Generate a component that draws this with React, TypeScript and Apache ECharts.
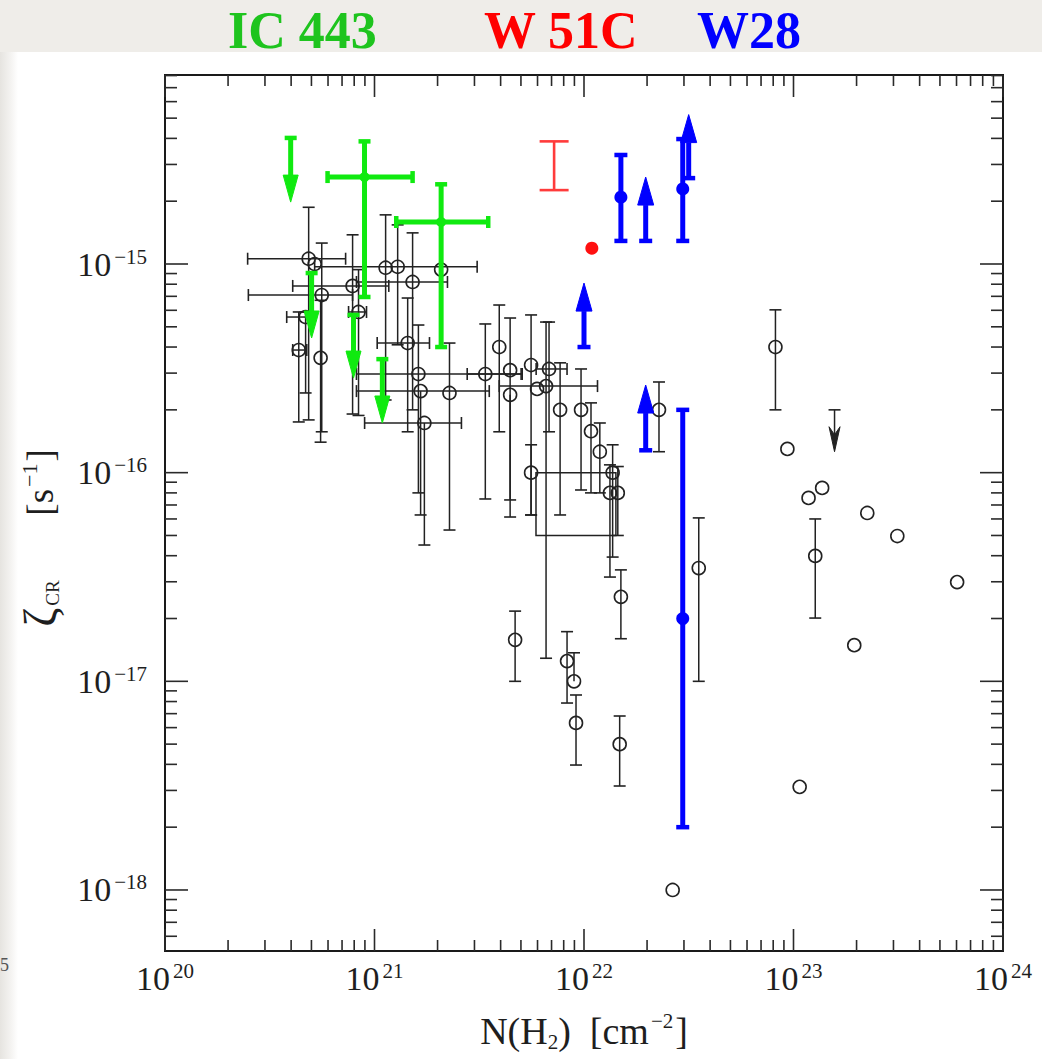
import React, { useEffect, useRef } from "react";
import * as echarts from "echarts";

const W = 1042;
const H = 1059;

// axis bounds
const X_MIN = 1e20;
const X_MAX = 1e24;
const Y_MIN = 5.1e-19;
const Y_MAX = 8.05e-15;
const xDecades = [20, 21, 22, 23];
const yDecades = [-19, -18, -17, -16, -15];
const mantissas = [1, 2, 3, 4, 5, 6, 7, 8, 9];

// titles
const titleTexts = ["IC 443", "W 51C", "W28"];

// [N(H2), zeta, zetaLow, zetaHigh, NLow, NHigh]  (0 = no bar)
const blackPoints = [
  [4.85e20, 1.06e-15, 1.79e-16, 1.87e-15, 2.48e20, 7.28e20],
  [5.18e20, 1.0e-15, 0, 0, 0, 0],
  [5.6e20, 7.1e-16, 1.57e-16, 1.26e-15, 2.5e20, 7.86e20],
  [4.35e20, 3.87e-16, 1.75e-16, 5.89e-16, 4.07e20, 4.75e20],
  [4.69e20, 5.57e-16, 2.41e-16, 5.89e-16, 3.81e20, 5.01e20],
  [5.53e20, 3.55e-16, 1.4e-16, 6.7e-16, 0, 0],
  [7.86e20, 7.85e-16, 1.91e-16, 1.38e-15, 4.07e20, 1.17e21],
  [8.39e20, 5.89e-16, 1.88e-16, 9.4e-16, 7.52e20, 9.16e20],
  [1.13e21, 9.6e-16, 2.23e-16, 1.72e-15, 0, 0],
  [1.29e21, 9.7e-16, 4.1e-16, 1.54e-15, 5.18e20, 3.09e21],
  [1.52e21, 8.2e-16, 2.0e-16, 1.41e-15, 8.2e20, 2.23e21],
  [2.08e21, 9.4e-16, 0, 0, 0, 0],
  [1.44e21, 4.18e-16, 1.57e-16, 6.87e-16, 1.03e21, 1.83e21],
  [1.62e21, 2.97e-16, 8.0e-17, 5.1e-16, 8.2e20, 5.07e21],
  [1.66e21, 2.46e-16, 6.27e-17, 0, 8.2e20, 3.53e21],
  [1.73e21, 1.73e-16, 4.5e-17, 0, 8.97e20, 2.6e21],
  [2.28e21, 2.41e-16, 5.31e-17, 4.18e-16, 0, 0],
  [3.38e21, 2.97e-16, 7.48e-17, 5.16e-16, 2.77e21, 5.01e21],
  [3.94e21, 4.0e-16, 1.57e-16, 6.36e-16, 0, 0],
  [4.44e21, 3.1e-16, 7.4e-17, 5.51e-16, 0, 0],
  [4.44e21, 2.36e-16, 6.13e-17, 0, 0, 0],
  [5.59e21, 3.28e-16, 6.27e-17, 5.7e-16, 0, 0],
  [6.81e21, 3.14e-16, 1.57e-16, 5.27e-16, 5.91e21, 8.3e21],
  [5.97e21, 2.52e-16, 0, 0, 0, 0],
  [6.59e21, 2.6e-16, 1.29e-17, 5.27e-16, 3.94e21, 1.16e22],
  [7.69e21, 2.0e-16, 6.27e-17, 3.36e-16, 0, 0],
  [9.68e21, 2.0e-16, 8.26e-17, 3.14e-16, 0, 0],
  [1.08e22, 1.58e-16, 8.0e-17, 2.16e-16, 0, 0],
  [1.19e22, 1.26e-16, 8.0e-17, 1.73e-16, 0, 0],
  [1.37e22, 1.0e-16, 3.94e-17, 1.36e-16, 0, 0],
  [1.33e22, 8.0e-17, 3.16e-17, 1.09e-16, 0, 0],
  [1.45e22, 8.0e-17, 5.0e-17, 1.07e-16, 0, 0],
  [5.59e21, 1.0e-16, 6.27e-17, 1.36e-16, 0, 0],
  [2.28e22, 2.0e-16, 1.26e-16, 2.72e-16, 0, 0],
  [3.53e22, 3.49e-17, 1.0e-17, 6.07e-17, 0, 0],
  [1.5e22, 2.54e-17, 1.6e-17, 3.42e-17, 0, 0],
  [1.48e22, 5.0e-18, 3.15e-18, 6.82e-18, 0, 0],
  [4.69e21, 1.58e-17, 1.0e-17, 2.17e-17, 0, 0],
  [8.3e21, 1.25e-17, 7.87e-18, 1.73e-17, 0, 0],
  [8.96e21, 1.0e-17, 0, 1.37e-17, 0, 0],
  [9.16e21, 6.32e-18, 3.97e-18, 8.6e-18, 0, 0],
  [2.65e22, 1.0e-18, 0, 0, 0, 0],
  [8.2e22, 4.0e-16, 2.0e-16, 6.03e-16, 0, 0],
  [9.35e22, 1.3e-16, 0, 0, 0, 0],
  [1.07e23, 3.12e-18, 0, 0, 0, 0],
  [1.18e23, 7.57e-17, 0, 0, 0, 0],
  [1.37e23, 8.45e-17, 0, 0, 0, 0],
  [1.27e23, 3.99e-17, 2.01e-17, 6.0e-17, 0, 0],
  [2.25e23, 6.41e-17, 0, 0, 0, 0],
  [3.13e23, 4.97e-17, 0, 0, 0, 0],
  [6.04e23, 2.99e-17, 0, 0, 0, 0],
  [1.95e23, 1.49e-17, 0, 0, 0, 0],
];
// [N(H2), zeta from (cap), zeta arrow tip]
const blackUpperLimits = [[1.57e23, 2.0e-16, 1.26e-16]];
// [N low, N high, zeta low, zeta high]
const blackBox = [[5.9e21, 1.42e22, 5.0e-17, 1.0e-16]];

// IC 443 (green)
const ic443Points = [
  [8.96e20, 2.61e-15, 6.95e-16, 3.87e-15, 5.97e20, 1.52e21],
  [2.08e21, 1.59e-15, 4.0e-16, 2.41e-15, 1.27e21, 3.49e21],
];
const ic443UpperLimits = [
  [3.98e20, 4.02e-15, 1.98e-15],
  [5.01e20, 9.05e-16, 4.42e-16],
  [7.94e20, 5.7e-16, 2.84e-16],
  [1.09e21, 3.5e-16, 1.73e-16],
];

// W 51C (red)
const w51cRange = [[7.2e21, 2.26e-15, 3.87e-15]];
const w51cPoints = [[1.09e22, 1.19e-15, 0, 0, 0, 0]];

// W28 (blue)
const w28Points = [
  [1.5e22, 2.09e-15, 1.29e-15, 3.33e-15, 0, 0],
  [2.96e22, 2.29e-15, 1.29e-15, 3.97e-15, 0, 0],
  [2.96e22, 2.0e-17, 2.0e-18, 2.0e-16, 0, 0],
];
const w28LowerLimits = [
  [1.97e22, 1.29e-15, 2.61e-15],
  [3.16e22, 2.58e-15, 5.2e-15],
  [1.0e22, 4.0e-16, 8.1e-16],
  [1.97e22, 1.28e-16, 2.63e-16],
];

const FONT = "'Liberation Serif', 'Times New Roman', serif";
const INK = "#1e1e1e";
const GREEN = "#10ea10";
const BLUE = "#0000ff";
const RED = "#ff3b3b";

function ln(x1: number, y1: number, x2: number, y2: number, color: string, lw: number) {
  return { type: "line", shape: { x1, y1, x2, y2 }, style: { stroke: color, lineWidth: lw } };
}

function errorSeries(data: number[][], o: any) {
  return {
    type: "custom",
    coordinateSystem: "cartesian2d",
    data,
    encode: { x: 0, y: 1 },
    silent: true,
    clip: false,
    z: o.z,
    renderItem: (params: any, api: any) => {
      const x = api.value(0);
      const y = api.value(1);
      const yLo = api.value(2);
      const yHi = api.value(3);
      const xLo = api.value(4);
      const xHi = api.value(5);
      const c = api.coord([x, y]);
      const ch: any[] = [];
      const hw = o.cap / 2;
      if (yLo > 0 || yHi > 0) {
        const top = yHi > 0 ? api.coord([x, yHi])[1] : c[1];
        const bot = yLo > 0 ? api.coord([x, yLo])[1] : c[1];
        ch.push(ln(c[0], top, c[0], bot, o.color, o.lw));
        if (yHi > 0) ch.push(ln(c[0] - hw, top, c[0] + hw, top, o.color, o.capLw));
        if (yLo > 0) ch.push(ln(c[0] - hw, bot, c[0] + hw, bot, o.color, o.capLw));
      }
      if (xLo > 0 || xHi > 0) {
        const left = xLo > 0 ? api.coord([xLo, y])[0] : c[0];
        const right = xHi > 0 ? api.coord([xHi, y])[0] : c[0];
        ch.push(ln(left, c[1], right, c[1], o.color, o.lw));
        if (xLo > 0) ch.push(ln(left, c[1] - hw, left, c[1] + hw, o.color, o.capLw));
        if (xHi > 0) ch.push(ln(right, c[1] - hw, right, c[1] + hw, o.color, o.capLw));
      }
      if (o.marker === "open") {
        ch.push({ type: "circle", shape: { cx: c[0], cy: c[1], r: o.r }, style: { fill: "none", stroke: o.color, lineWidth: o.markerLw } });
      } else if (o.marker === "filled") {
        ch.push({ type: "circle", shape: { cx: c[0], cy: c[1], r: o.r }, style: { fill: o.markerColor || o.color } });
      }
      return { type: "group", children: ch };
    },
  };
}

function limitSeries(data: number[][], o: any) {
  return {
    type: "custom",
    coordinateSystem: "cartesian2d",
    data,
    encode: { x: 0, y: 1 },
    silent: true,
    clip: false,
    z: o.z,
    renderItem: (params: any, api: any) => {
      const x = api.value(0);
      const base = api.coord([x, api.value(1)]);
      const tip = api.coord([x, api.value(2)]);
      const dir = tip[1] > base[1] ? 1 : -1;
      const hb = tip[1] - dir * o.headLen;
      const hw = o.cap / 2;
      const ch: any[] = [];
      ch.push(ln(base[0] - hw, base[1], base[0] + hw, base[1], o.color, o.capLw));
      ch.push(ln(base[0], base[1], base[0], o.notch ? tip[1] - dir * 4 : hb, o.color, o.lw));
      const pts = o.notch
        ? [[tip[0] - o.headHalf, hb], [tip[0], tip[1]], [tip[0] + o.headHalf, hb], [tip[0], hb + dir * o.notch]]
        : [[tip[0] - o.headHalf, hb], [tip[0], tip[1]], [tip[0] + o.headHalf, hb]];
      ch.push({ type: "polygon", shape: { points: pts }, style: { fill: o.color, stroke: o.color, lineWidth: 1 } });
      return { type: "group", children: ch };
    },
  };
}

function rangeSeries(data: number[][], o: any) {
  return {
    type: "custom",
    coordinateSystem: "cartesian2d",
    data,
    encode: { x: 0, y: 1 },
    silent: true,
    clip: false,
    z: o.z,
    renderItem: (params: any, api: any) => {
      const x = api.value(0);
      const a = api.coord([x, api.value(1)]);
      const b = api.coord([x, api.value(2)]);
      const hw = o.cap / 2;
      return {
        type: "group",
        children: [
          ln(a[0], a[1], b[0], b[1], o.color, o.lw),
          ln(a[0] - hw, a[1], a[0] + hw, a[1], o.color, o.lw),
          ln(b[0] - hw, b[1], b[0] + hw, b[1], o.color, o.lw),
        ],
      };
    },
  };
}

function boxSeries(data: number[][], o: any) {
  return {
    type: "custom",
    coordinateSystem: "cartesian2d",
    data,
    encode: { x: 0, y: 2 },
    silent: true,
    clip: false,
    z: o.z,
    renderItem: (params: any, api: any) => {
      const p1 = api.coord([api.value(0), api.value(3)]);
      const p2 = api.coord([api.value(1), api.value(2)]);
      return {
        type: "polygon",
        shape: { points: [[p1[0], p1[1]], [p2[0], p1[1]], [p2[0], p2[1]], [p1[0], p2[1]]] },
        style: { fill: "none", stroke: o.color, lineWidth: o.lw },
      };
    },
  };
}

function buildOption() {
  const xTickData: number[][] = [];
  xDecades.forEach((e) => mantissas.forEach((m) => xTickData.push([m * Math.pow(10, e), Y_MIN, m === 1 ? 1 : 0])));
  xTickData.push([X_MAX, Y_MIN, 1]);
  const yTickData: number[][] = [];
  yDecades.forEach((e) =>
    mantissas.forEach((m) => {
      const v = Number(m + "e" + e);
      if (v >= Y_MIN && v <= Y_MAX) yTickData.push([X_MIN, v, m === 1 ? 1 : 0]);
    })
  );

  const labelRich = {
    b: { fontFamily: FONT, fontSize: 34, lineHeight: 36, color: INK },
    s: { fontFamily: FONT, fontSize: 21, lineHeight: 24, verticalAlign: "top", color: INK, padding: [0, 0, 0, 3] },
  };
  const fmt = (v: number) => {
    const e = Math.log10(v);
    const r = Math.round(e);
    if (Math.abs(e - r) > 1e-6) return "";
    return "{b|10}{s|" + (r < 0 ? "\u2212" + -r : String(r)) + "}";
  };

  const tickColor = "#2a2a2a";

  return {
    animation: false,
    backgroundColor: "#ffffff",
    grid: { left: 165, top: 75, width: 838, height: 876, show: true, borderColor: "#1a1a1a", borderWidth: 2, backgroundColor: "#ffffff" },
    xAxis: {
      type: "log",
      logBase: 10,
      min: X_MIN,
      max: X_MAX,
      axisLine: { show: false },
      axisTick: { show: false },
      splitLine: { show: false },
      axisLabel: { formatter: fmt, rich: labelRich, margin: 9 },
    },
    yAxis: {
      type: "log",
      logBase: 10,
      min: Y_MIN,
      max: Y_MAX,
      axisLine: { show: false },
      axisTick: { show: false },
      splitLine: { show: false },
      axisLabel: { formatter: fmt, rich: labelRich, margin: 18 },
    },
    graphic: [
      { type: "rect", silent: true, z: -10, shape: { x: 0, y: 0, width: W, height: 52 }, style: { fill: "#efede9" } },
      {
        type: "rect",
        silent: true,
        z: -10,
        shape: { x: 0, y: 52, width: 18, height: H - 52 },
        style: {
          fill: new echarts.graphic.LinearGradient(0, 0, 1, 0, [
            { offset: 0, color: "#e6e4e0" },
            { offset: 0.6, color: "#f4f3f1" },
            { offset: 1, color: "#ffffff" },
          ]),
        },
      },
      { type: "text", x: 228, y: 30, style: { text: titleTexts[0], fill: "#1ec41e", fontFamily: FONT, fontWeight: "bold", fontSize: 52, verticalAlign: "middle", textVerticalAlign: "middle" } },
      { type: "text", x: 484, y: 30, style: { text: titleTexts[1], fill: "#ff0000", fontFamily: FONT, fontWeight: "bold", fontSize: 52, verticalAlign: "middle", textVerticalAlign: "middle" } },
      { type: "text", x: 697, y: 30, style: { text: titleTexts[2], fill: "#0000ff", fontFamily: FONT, fontWeight: "bold", fontSize: 52, verticalAlign: "middle", textVerticalAlign: "middle" } },
      { type: "text", x: 0, y: 965, style: { text: "5", fill: "#555", fontFamily: FONT, fontSize: 18, verticalAlign: "middle", textVerticalAlign: "middle" } },
      {
        type: "text",
        x: 584,
        y: 1031,
        style: {
          text: "{n|N(H}{d|2}{n|)  [cm}{u|\u22122}{n|]}",
          align: "center",
          textAlign: "center",
          verticalAlign: "middle",
          textVerticalAlign: "middle",
          rich: {
            n: { fontFamily: FONT, fontSize: 38, lineHeight: 42, fill: INK, color: INK },
            d: { fontFamily: FONT, fontSize: 21, lineHeight: 20, verticalAlign: "bottom", fill: INK, color: INK },
            u: { fontFamily: FONT, fontSize: 21, lineHeight: 26, verticalAlign: "top", fill: INK, color: INK, padding: [0, 2, 0, 2] },
          },
        },
      },
      {
        type: "text",
        x: 40,
        y: 538,
        rotation: Math.PI / 2,
        style: {
          text: "{z|\u03b6}{c|CR}{n|       [s}{u|\u22121}{n|]}",
          align: "center",
          textAlign: "center",
          verticalAlign: "middle",
          textVerticalAlign: "middle",
          rich: {
            z: { fontFamily: FONT, fontSize: 46, lineHeight: 44, fill: INK, color: INK },
            n: { fontFamily: FONT, fontSize: 37, lineHeight: 44, fill: INK, color: INK },
            c: { fontFamily: FONT, fontSize: 19, lineHeight: 22, verticalAlign: "bottom", fill: INK, color: INK, padding: [0, 0, 0, 2] },
            u: { fontFamily: FONT, fontSize: 22, lineHeight: 26, verticalAlign: "top", fill: INK, color: INK, padding: [0, 2, 0, 2] },
          },
        },
      },
    ],
    series: [
      {
        type: "custom",
        coordinateSystem: "cartesian2d",
        data: xTickData,
        encode: { x: 0, y: 1 },
        silent: true,
        clip: false,
        z: 3,
        renderItem: (params: any, api: any) => {
          const cs = params.coordSys;
          const p = api.coord([api.value(0), Y_MIN]);
          const len = api.value(2) ? 22 : 11;
          const b = cs.y + cs.height;
          return { type: "group", children: [ln(p[0], b, p[0], b - len, tickColor, 1.6), ln(p[0], cs.y, p[0], cs.y + len, tickColor, 1.6)] };
        },
      },
      {
        type: "custom",
        coordinateSystem: "cartesian2d",
        data: yTickData,
        encode: { x: 0, y: 1 },
        silent: true,
        clip: false,
        z: 3,
        renderItem: (params: any, api: any) => {
          const cs = params.coordSys;
          const p = api.coord([X_MIN, api.value(1)]);
          const len = api.value(2) ? 23 : 12;
          const r = cs.x + cs.width;
          return { type: "group", children: [ln(cs.x, p[1], cs.x + len, p[1], tickColor, 1.6), ln(r, p[1], r - len, p[1], tickColor, 1.6)] };
        },
      },
      boxSeries(blackBox, { color: "#222", lw: 1.5, z: 4 }),
      errorSeries(blackPoints, { color: "#222", lw: 1.5, cap: 12, capLw: 1.6, marker: "open", r: 6.5, markerLw: 1.6, z: 5 }),
      limitSeries(blackUpperLimits, { color: "#222", lw: 1.5, cap: 12, capLw: 1.6, headLen: 25, headHalf: 5.5, notch: 8, z: 5 }),
      errorSeries(ic443Points, { color: GREEN, lw: 5, cap: 12, capLw: 4.5, marker: "filled", r: 5, z: 10 }),
      limitSeries(ic443UpperLimits, { color: GREEN, lw: 5, cap: 12, capLw: 4.5, headLen: 27, headHalf: 7.5, z: 10 }),
      rangeSeries(w51cRange, { color: RED, lw: 2.6, cap: 29, z: 10 }),
      errorSeries(w51cPoints, { color: "#ff1010", lw: 2, cap: 0, capLw: 0, marker: "filled", r: 6.5, z: 10 }),
      errorSeries(w28Points, { color: BLUE, lw: 5, cap: 13, capLw: 4.5, marker: "filled", r: 6.5, z: 10 }),
      limitSeries(w28LowerLimits, { color: BLUE, lw: 5, cap: 13, capLw: 4.5, headLen: 28, headHalf: 8, z: 10 }),
    ],
  };
}

export default function App() {
  const ref = useRef<HTMLDivElement>(null);
  useEffect(() => {
    if (!ref.current) return;
    const chart = echarts.init(ref.current, null, { renderer: "svg" });
    chart.setOption(buildOption() as any);
    return () => {
      chart.dispose();
    };
  }, []);
  return <div ref={ref} style={{ position: "absolute", left: 0, top: 0, width: W, height: H, background: "#ffffff" }} />;
}
